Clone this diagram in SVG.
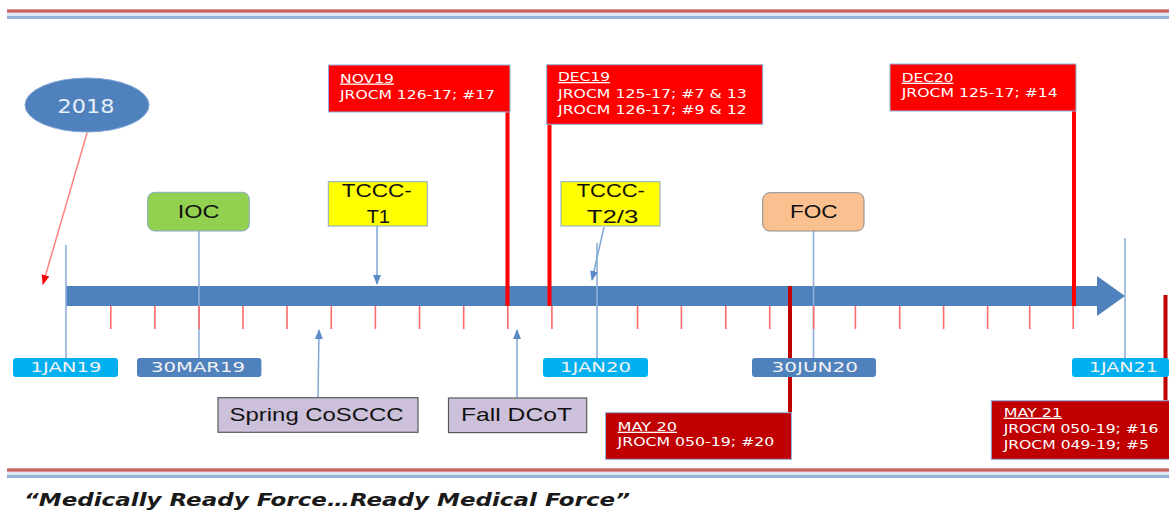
<svg xmlns="http://www.w3.org/2000/svg" width="1169" height="512" viewBox="0 0 1169 512">
<style>
.sm{font-family:"DejaVu Sans",Verdana,sans-serif;font-size:13px;fill:#fff}
.u{text-decoration:underline}
.big{font-family:"Liberation Sans",Arial,sans-serif;font-size:19px;fill:#111;text-anchor:middle}
.date{font-family:"DejaVu Sans",Verdana,sans-serif;font-size:14px;fill:#f2f2f2;text-anchor:middle}
.rbox{fill:#ff0000;stroke:#8eb4e3;stroke-width:1}
.dbox{fill:#c00000;stroke:#8eb4e3;stroke-width:1}
.bl{stroke:#8eb0d8;stroke-width:1.6;fill:none}
.tk{stroke:#ff6a6a;stroke-width:1.6}
.ba{stroke:#7fa6d6;stroke-width:1.5;fill:none;marker-end:url(#ab)}
.rl{stroke:#ff0000;stroke-width:4}
.dl{stroke:#c00000;stroke-width:4}
</style>
<defs>
<marker id="ab" markerUnits="userSpaceOnUse" markerWidth="10" markerHeight="10" viewBox="0 0 10 10" refX="9" refY="5" orient="auto"><path d="M0,1 L10,5 L0,9 z" fill="#5b8bc9"/></marker>
<marker id="ar" markerUnits="userSpaceOnUse" markerWidth="10" markerHeight="10" viewBox="0 0 10 10" refX="9" refY="5" orient="auto"><path d="M0,1 L10,5 L0,9 z" fill="#ff0000"/></marker>
</defs>
<rect width="1169" height="512" fill="#fff"/>
<!-- header / footer bands -->
<g id="bands">
<rect x="7" y="9" width="1162" height="4" fill="#d99694"/>
<line x1="7" y1="11" x2="1169" y2="11" stroke="#c0504d" stroke-width="1.5"/>
<rect x="7" y="13" width="1162" height="3" fill="#dde7f3"/>
<rect x="7" y="16" width="1162" height="3" fill="#95b3d7"/>
<rect x="7" y="468" width="1162" height="4" fill="#d99694"/>
<line x1="7" y1="470" x2="1169" y2="470" stroke="#c0504d" stroke-width="1.5"/>
<rect x="7" y="472" width="1162" height="3" fill="#dde7f3"/>
<rect x="7" y="475" width="1162" height="3" fill="#95b3d7"/>
</g>
<!-- timeline -->
<g id="timeline">
<path d="M66,286 H1097 V276 L1125,296 L1097,316 V306 H66 Z" fill="#4f81bd"/>
</g>
<g id="connectors">
<line class="bl" x1="66" y1="245" x2="66" y2="358"/>
<line class="bl" x1="199" y1="231" x2="199" y2="358"/>
<line class="bl" x1="597" y1="243" x2="597" y2="358"/>
<line class="bl" x1="813.5" y1="231" x2="813.5" y2="358"/>
<line class="bl" x1="1125" y1="238" x2="1125" y2="358"/>
<g class="tk">
<line x1="110.8" y1="306" x2="110.8" y2="329"/>
<line x1="154.9" y1="306" x2="154.9" y2="329"/>
<line x1="199" y1="306" x2="199" y2="329"/>
<line x1="243" y1="306" x2="243" y2="329"/>
<line x1="287" y1="306" x2="287" y2="329"/>
<line x1="331.3" y1="306" x2="331.3" y2="329"/>
<line x1="375.4" y1="306" x2="375.4" y2="329"/>
<line x1="419.5" y1="306" x2="419.5" y2="329"/>
<line x1="463.7" y1="306" x2="463.7" y2="329"/>
<line x1="507.8" y1="306" x2="507.8" y2="329"/>
<line x1="551.9" y1="306" x2="551.9" y2="329"/>
<line x1="637.5" y1="306" x2="637.5" y2="329"/>
<line x1="681.4" y1="306" x2="681.4" y2="329"/>
<line x1="725.8" y1="306" x2="725.8" y2="329"/>
<line x1="769.7" y1="306" x2="769.7" y2="329"/>
<line x1="813.7" y1="306" x2="813.7" y2="329"/>
<line x1="855.4" y1="306" x2="855.4" y2="329"/>
<line x1="899.7" y1="306" x2="899.7" y2="329"/>
<line x1="943.6" y1="306" x2="943.6" y2="329"/>
<line x1="987.6" y1="306" x2="987.6" y2="329"/>
<line x1="1029.7" y1="306" x2="1029.7" y2="329"/>
<line x1="1073.2" y1="306" x2="1073.2" y2="329"/>
</g>
<line class="ba" x1="377" y1="226" x2="377" y2="284"/>
<line class="ba" x1="604" y1="227" x2="592" y2="280"/>
<line class="ba" x1="318" y1="397" x2="319" y2="330"/>
<line class="ba" x1="517" y1="397" x2="517" y2="330"/>
<line x1="87" y1="133" x2="43" y2="284" stroke="#ff8080" stroke-width="1.5" marker-end="url(#ar)"/>
<line class="rl" x1="507.5" y1="100" x2="507.5" y2="306"/>
<line class="rl" x1="549.5" y1="100" x2="549.5" y2="306"/>
<line class="rl" x1="1074" y1="100" x2="1074" y2="306"/>
<line class="dl" x1="790" y1="286" x2="790" y2="413"/>
<line class="dl" x1="1165.5" y1="295" x2="1165.5" y2="401" stroke-width="3"/>
</g>
<g id="n2018">
<ellipse cx="87" cy="105" rx="62" ry="27" fill="#4f81bd" stroke="#7ea3d2" stroke-width="1"/>
<text x="86" y="113" font-family="'DejaVu Sans',Verdana,sans-serif" font-size="19" fill="#e6eef8" text-anchor="middle" textLength="57" lengthAdjust="spacingAndGlyphs">2018</text>
</g>
<g id="nov19">
<rect class="rbox" x="328.5" y="65" width="181.5" height="47"/>
<text class="sm u" x="340" y="82.5" textLength="54" lengthAdjust="spacingAndGlyphs">NOV19</text>
<text class="sm" x="340" y="99.3" textLength="155" lengthAdjust="spacingAndGlyphs">JROCM 126-17; #17</text>
</g>
<g id="dec19">
<rect class="rbox" x="546.7" y="64.7" width="216" height="59.6"/>
<text class="sm u" x="558" y="81" textLength="52" lengthAdjust="spacingAndGlyphs">DEC19</text>
<text class="sm" x="558" y="97.7" textLength="188.7" lengthAdjust="spacingAndGlyphs">JROCM 125-17; #7 &amp; 13</text>
<text class="sm" x="558" y="114.3" textLength="188.7" lengthAdjust="spacingAndGlyphs">JROCM 126-17; #9 &amp; 12</text>
</g>
<g id="dec20">
<rect class="rbox" x="890" y="64" width="186" height="47"/>
<text class="sm u" x="901.7" y="81.7" textLength="51.7" lengthAdjust="spacingAndGlyphs">DEC20</text>
<text class="sm" x="901.7" y="97.3" textLength="156" lengthAdjust="spacingAndGlyphs">JROCM 125-17; #14</text>
</g>
<g id="may20">
<rect class="dbox" x="605.5" y="412.7" width="186" height="46.6"/>
<text class="sm u" x="617.6" y="430.7" textLength="59.4" lengthAdjust="spacingAndGlyphs">MAY 20</text>
<text class="sm" x="617.6" y="446" textLength="156.6" lengthAdjust="spacingAndGlyphs">JROCM 050-19; #20</text>
</g>
<g id="may21">
<rect class="dbox" x="991.3" y="400.7" width="180" height="58.6"/>
<text class="sm u" x="1003.7" y="416.7" textLength="58.3" lengthAdjust="spacingAndGlyphs">MAY 21</text>
<text class="sm" x="1003.7" y="433.3" textLength="154.8" lengthAdjust="spacingAndGlyphs">JROCM 050-19; #16</text>
<text class="sm" x="1003.7" y="449" textLength="145.3" lengthAdjust="spacingAndGlyphs">JROCM 049-19; #5</text>
</g>
<g id="ioc">
<rect x="147.7" y="192.3" width="101.6" height="38.7" rx="7" fill="#92d050" stroke="#8aa8c8" stroke-width="1"/>
<text class="big" x="198.5" y="218" textLength="41.7" lengthAdjust="spacingAndGlyphs">IOC</text>
</g>
<g id="tccc1">
<rect x="328.3" y="181.7" width="99" height="44.3" fill="#ffff00" stroke="#8aa8c8" stroke-width="1"/>
<text class="big" x="376.7" y="197" textLength="70" lengthAdjust="spacingAndGlyphs">TCCC-</text>
<text class="big" x="378.3" y="223" textLength="23.3" lengthAdjust="spacingAndGlyphs">T1</text>
</g>
<g id="tccc23">
<rect x="561" y="181.7" width="99" height="44.3" fill="#ffff00" stroke="#8aa8c8" stroke-width="1"/>
<text class="big" x="610.8" y="197" textLength="68.3" lengthAdjust="spacingAndGlyphs">TCCC-</text>
<text class="big" x="612.5" y="223" textLength="51.6" lengthAdjust="spacingAndGlyphs">T2/3</text>
</g>
<g id="foc">
<rect x="762.7" y="192.7" width="101.3" height="38.3" rx="7" fill="#fac090" stroke="#8c8c8c" stroke-width="1"/>
<text class="big" x="813.8" y="218.3" textLength="47.7" lengthAdjust="spacingAndGlyphs">FOC</text>
</g>
<g id="d1jan19">
<rect x="13" y="358" width="105" height="19" rx="3" fill="#00b0f0"/>
<text class="date" x="66" y="372" textLength="71" lengthAdjust="spacingAndGlyphs">1JAN19</text>
</g>
<g id="d30mar19">
<rect x="137" y="358" width="124.4" height="19" rx="3" fill="#4f81bd"/>
<text class="date" x="198" y="372" textLength="94" lengthAdjust="spacingAndGlyphs">30MAR19</text>
</g>
<g id="d1jan20">
<rect x="543" y="358" width="105" height="19" rx="3" fill="#00b0f0"/>
<text class="date" x="595.5" y="372" textLength="71" lengthAdjust="spacingAndGlyphs">1JAN20</text>
</g>
<g id="d30jun20">
<rect x="752" y="358" width="124" height="19" rx="3" fill="#4f81bd"/>
<text class="date" x="814.8" y="372" textLength="86.4" lengthAdjust="spacingAndGlyphs">30JUN20</text>
</g>
<g id="d1jan21">
<rect x="1072" y="358" width="97" height="19" rx="3" fill="#00b0f0"/>
<text class="date" x="1123.4" y="372" textLength="69" lengthAdjust="spacingAndGlyphs">1JAN21</text>
</g>
<g id="spring">
<rect x="218" y="397.7" width="200" height="34.6" fill="#ccc0da" stroke="#595959" stroke-width="1.2"/>
<text class="big" x="316.6" y="420.7" textLength="174" lengthAdjust="spacingAndGlyphs">Spring CoSCCC</text>
</g>
<g id="fall">
<rect x="448.5" y="398" width="138.2" height="34.6" fill="#ccc0da" stroke="#595959" stroke-width="1.2"/>
<text class="big" x="516.5" y="421" textLength="111" lengthAdjust="spacingAndGlyphs">Fall DCoT</text>
</g>
<g id="footer">
<text x="24" y="506" font-family="'DejaVu Sans',Verdana,sans-serif" font-size="17" font-weight="bold" font-style="italic" fill="#1a1a1a" textLength="606" lengthAdjust="spacingAndGlyphs">“Medically  Ready  Force…Ready  Medical  Force”</text>
</g>
</svg>
